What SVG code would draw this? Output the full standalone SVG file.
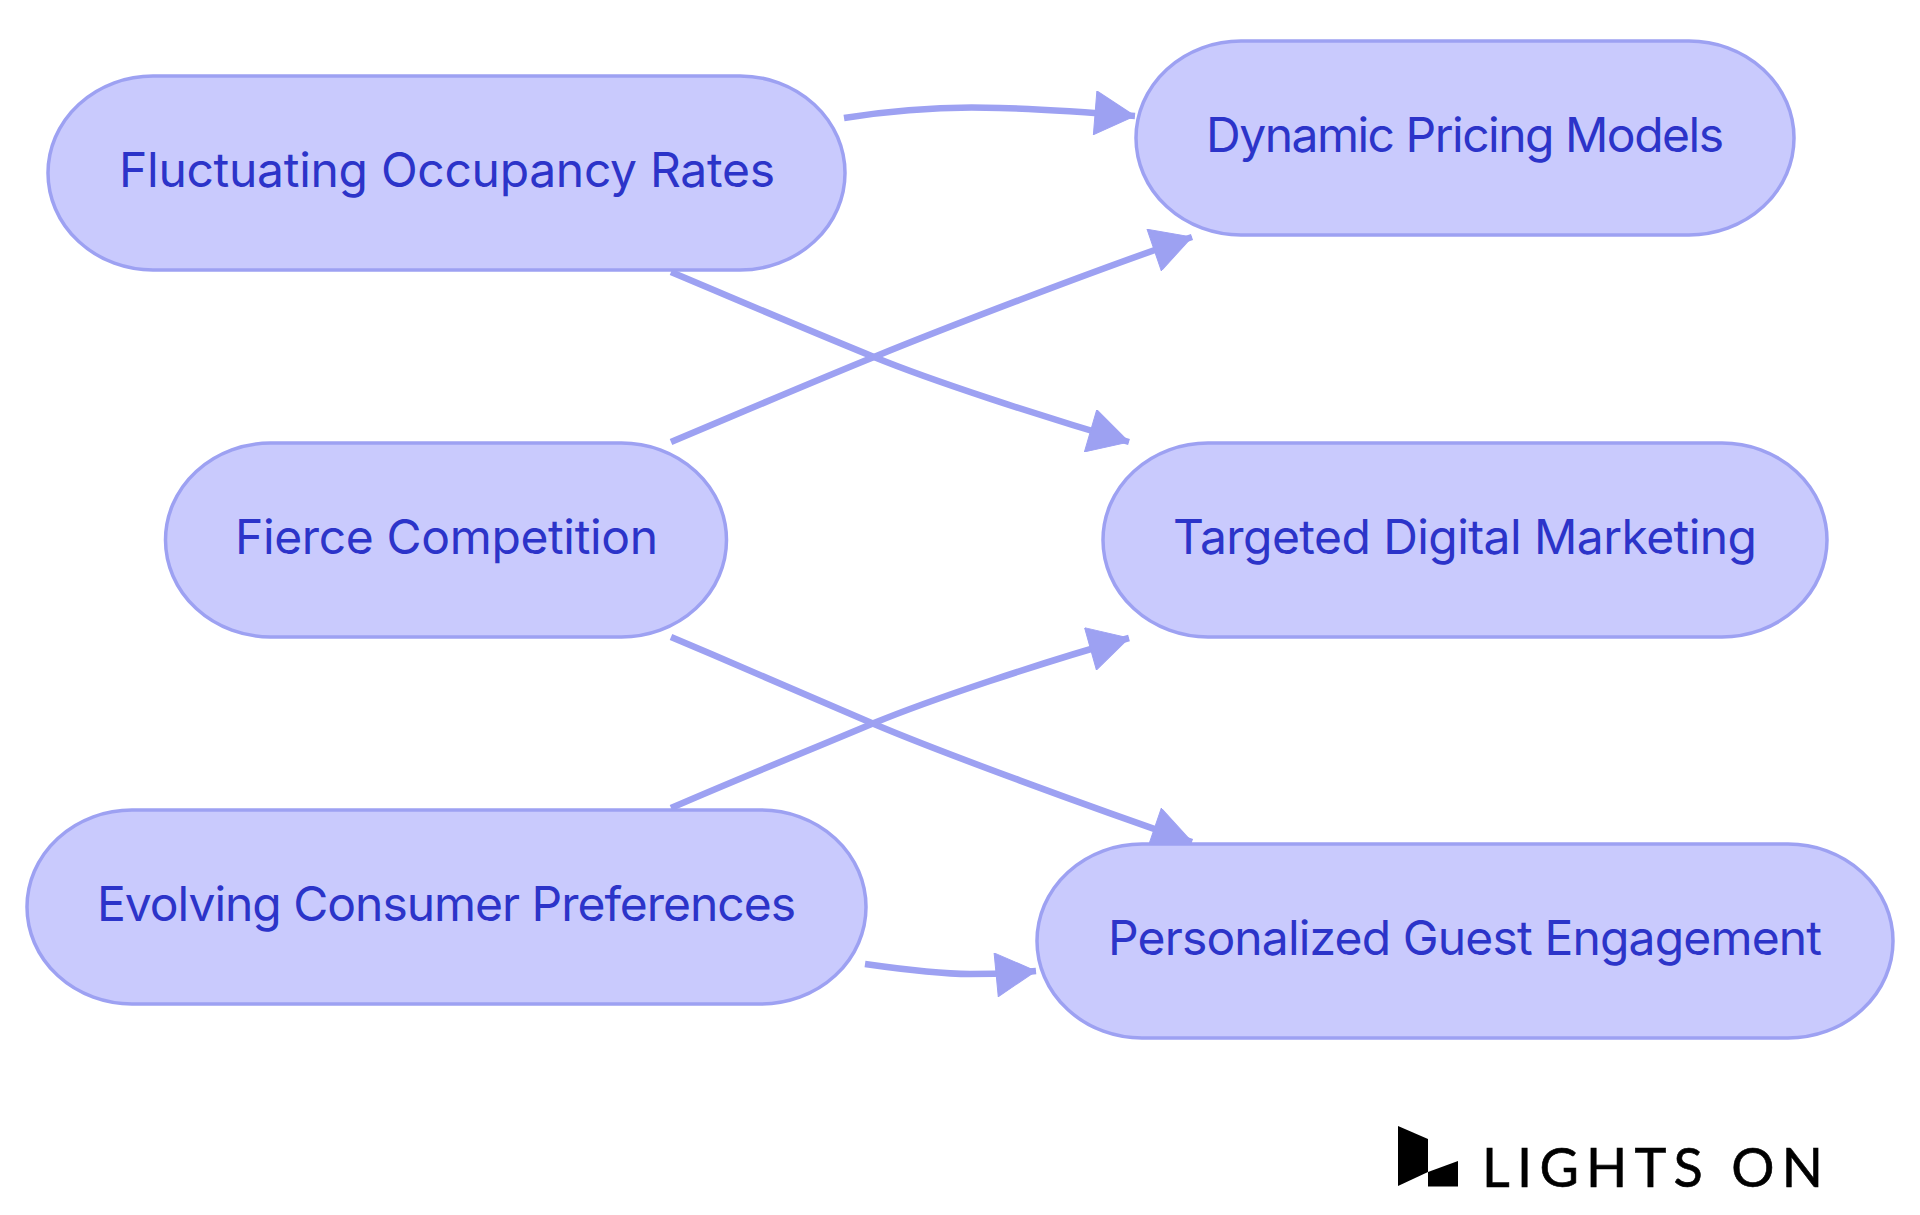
<svg xmlns="http://www.w3.org/2000/svg" width="1920" height="1215" viewBox="0 0 1920 1215">
<style>
.node rect{fill:#c9cafd;stroke:#9da1f2;stroke-width:3.5}
.node text{font-family:"Inter","Noto Sans",sans-serif;font-size:48px;fill:#2c34c9}
.edge{fill:none;stroke:#9da1f2;stroke-width:6.500;marker-end:url(#arrow)}
</style>
<defs>
<marker id="arrow" viewBox="0 0 41 44" refX="41" refY="22" markerWidth="41" markerHeight="44" markerUnits="userSpaceOnUse" orient="auto">
<path d="M1,0 L41,22 L1,44 Z" fill="#9da1f2" stroke="#9da1f2" stroke-width="1"/>
</marker>
</defs>
<rect width="1920" height="1215" fill="#ffffff"/>
<g id="connectors">
<path class="edge" d="M844,118 C 900,109 950,106 1000,108 C 1040,109 1085,112 1135,116"/>
<path class="edge" d="M671,272 C 740,301 810,331 874,357 C 930,380 1040,416 1129,442"/>
<path class="edge" d="M671,442 C 740,413 810,383 874,357 C 940,330 1090,272 1192,237"/>
<path class="edge" d="M671,637 C 740,666 810,697 874,724 C 940,752 1090,807 1192,842"/>
<path class="edge" d="M671,808 C 740,778 810,750 874,723 C 930,700 1040,663 1129,638"/>
<path class="edge" d="M865,964 C 900,969 940,974 970,974 C 990,974 1015,973 1036,971"/>
</g>
<g id="n1" class="node"><rect x="48" y="76" width="797" height="194" rx="105" ry="97"/><text x="447" y="187" text-anchor="middle" textLength="656">Fluctuating Occupancy Rates</text></g>
<g id="n2" class="node"><rect x="165.500" y="443" width="561" height="194" rx="105" ry="97"/><text x="446.500" y="554" text-anchor="middle" textLength="423">Fierce Competition</text></g>
<g id="n3" class="node"><rect x="27" y="810" width="839" height="194" rx="105" ry="97"/><text x="446.500" y="921" text-anchor="middle" textLength="699">Evolving Consumer Preferences</text></g>
<g id="n4" class="node"><rect x="1136" y="41" width="658" height="194" rx="105" ry="97"/><text x="1465" y="152" text-anchor="middle" textLength="518">Dynamic Pricing Models</text></g>
<g id="n5" class="node"><rect x="1103" y="443" width="724" height="194" rx="105" ry="97"/><text x="1465" y="554" text-anchor="middle" textLength="584">Targeted Digital Marketing</text></g>
<g id="n6" class="node"><rect x="1037" y="844" width="856" height="194" rx="105" ry="97"/><text x="1465" y="955" text-anchor="middle" textLength="714">Personalized Guest Engagement</text></g>
<g id="logo">
<path d="M1398,1126 L1428,1139 L1428,1172 L1398,1186 Z" fill="#000"/>
<path d="M1428,1172 L1458,1161 L1458,1186.500 L1428,1186.500 Z" fill="#000"/>
<text x="1482" y="1187" font-family="Lato, sans-serif" font-size="54" fill="#000" stroke="#000" stroke-width="0.6" textLength="341" lengthAdjust="spacing">LIGHTS ON</text>
</g>
</svg>
